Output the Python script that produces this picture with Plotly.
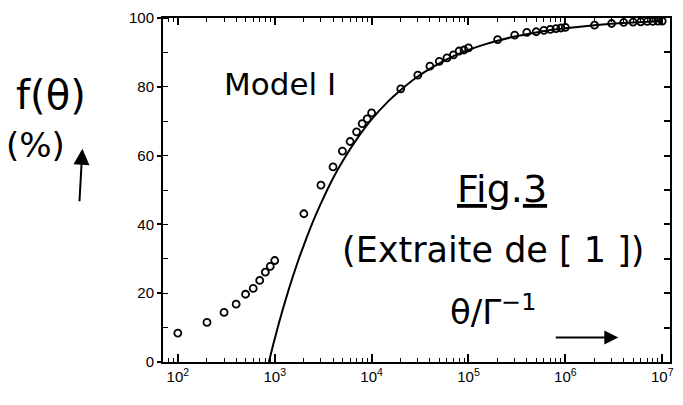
import plotly.graph_objects as go

# Measured fraction f(theta) in percent versus theta / Gamma^-1
theta_pts = [100, 200, 300, 400, 500, 600, 700, 800, 900, 1000,
             2000, 3000, 4000, 5000, 6000, 7000, 8000, 9000, 10000,
             20000, 30000, 40000, 50000, 60000, 70000, 80000, 90000, 100000,
             200000, 300000, 400000, 500000, 600000, 700000, 800000, 900000, 1000000,
             2000000, 3000000, 4000000, 5000000, 6000000, 7000000, 8000000, 9000000, 10000000]
f_pts = [8.4, 11.5, 14.4, 16.8, 19.7, 21.4, 23.7, 26.1, 27.8, 29.5,
         43.1, 51.4, 56.7, 61.3, 64.1, 66.9, 69.3, 70.7, 72.4,
         79.4, 83.4, 86.0, 87.4, 88.4, 89.3, 90.4, 90.7, 91.3,
         93.7, 95.0, 95.8, 96.0, 96.4, 96.7, 96.9, 97.1, 97.3,
         97.9, 98.4, 98.7, 98.8, 98.9, 99.0, 99.0, 99.1, 99.1]

# Model I curve
theta_curve = [870, 950, 1000, 1100, 1200, 1400, 1700, 2000, 2500, 3000, 4000, 5000,
               7000, 10000, 15000, 20000, 30000, 50000, 70000, 100000, 150000,
               200000, 300000, 500000, 700000, 1000000, 2000000, 3000000, 5000000, 10000000]
f_curve = [0.0, 4.3, 6.7, 11.1, 14.9, 21.2, 28.5, 34.0, 41.0, 46.1, 53.4, 58.3,
           64.7, 70.5, 75.9, 79.1, 83.0, 86.8, 88.9, 90.7, 92.4,
           93.4, 94.6, 95.8, 96.5, 97.0, 97.9, 98.3, 98.7, 99.1]

x_major = [100, 1000, 10000, 100000, 1000000, 10000000]
x_major_text = ["10<sup>2</sup>", "10<sup>3</sup>", "10<sup>4</sup>",
                "10<sup>5</sup>", "10<sup>6</sup>", "10<sup>7</sup>"]
x_minor = [k * 10 ** n for n in range(1, 7) for k in range(2, 10)]
y_major = [0, 20, 40, 60, 80, 100]

x_range = [1.847, 7.08]

fig = go.Figure()
fig.add_trace(go.Scatter(x=theta_curve, y=f_curve, mode="lines",
                         line=dict(color="black", width=2, shape="spline", smoothing=0.6),
                         showlegend=False, cliponaxis=True))
fig.add_trace(go.Scatter(x=theta_pts, y=f_pts, mode="markers",
                         marker=dict(symbol="circle-open", size=7, color="black",
                                     line=dict(width=1.8, color="black")),
                         showlegend=False))
# empty trace that carries the top / right frame axes
fig.add_trace(go.Scatter(x=[], y=[], xaxis="x2", yaxis="y2", showlegend=False))

tick_font = dict(family="Liberation Sans, Arial, sans-serif", size=15, color="black")

fig.update_layout(
    width=683, height=405,
    margin=dict(l=163, r=9, t=10, b=43),
    paper_bgcolor="white", plot_bgcolor="white",
    xaxis=dict(type="log", range=x_range, showgrid=False, zeroline=False,
               showline=True, linecolor="black", linewidth=2,
               tickmode="array", tickvals=x_major, ticktext=x_major_text,
               ticks="inside", ticklen=8, tickwidth=1.5, tickcolor="black",
               minor=dict(tickvals=x_minor, ticks="inside", ticklen=4,
                          tickwidth=1.2, tickcolor="black", showgrid=False),
               tickfont=tick_font),
    yaxis=dict(range=[0, 100], showgrid=False, zeroline=False,
               showline=True, linecolor="black", linewidth=2,
               tickmode="array", tickvals=y_major,
               ticks="outside", ticklen=4, tickwidth=1.5, tickcolor="black",
               minor=dict(dtick=10, ticks="inside", ticklen=5,
                          tickwidth=1.2, tickcolor="black", showgrid=False),
               tickfont=tick_font),
    xaxis2=dict(type="log", range=x_range, overlaying="x", side="top", anchor="y2",
                showgrid=False, zeroline=False, showline=True, linecolor="black",
                linewidth=2, tickmode="array", tickvals=x_major, showticklabels=False,
                ticks="inside", ticklen=7, tickwidth=1.5, tickcolor="black",
                minor=dict(tickvals=x_minor, ticks="inside", ticklen=4,
                           tickwidth=1.2, tickcolor="black", showgrid=False)),
    yaxis2=dict(range=[0, 100], overlaying="y", side="right", anchor="x2",
                showgrid=False, zeroline=False, showline=True, linecolor="black",
                linewidth=2, dtick=10, showticklabels=False,
                ticks="inside", ticklen=6, tickwidth=1.5, tickcolor="black"),
)

hand = "DejaVu Sans, sans-serif"
notes = [
    ("Model I", 0.231, 0.807, 31),
    ("<u>Fig</u>.<u>3</u>", 0.669, 0.503, 38),
    ("(Extraite de [ 1 ])", 0.652, 0.327, 35),
    ("θ/Γ<sup>−1</sup>", 0.650, 0.150, 34),
    ("f(θ)", -0.221, 0.775, 40),
    ("(%)", -0.252, 0.632, 34),
]
for txt, x, y, s in notes:
    fig.add_annotation(text=txt, x=x, y=y, xref="paper", yref="paper",
                       showarrow=False, xanchor="center", yanchor="middle",
                       font=dict(family=hand, size=s, color="black"))

# hand-drawn style arrows
fig.add_annotation(x=0.898, y=0.071, xref="paper", yref="paper", text="",
                   showarrow=True, ax=-64, ay=0, axref="pixel", ayref="pixel",
                   arrowhead=2, arrowsize=1.4, arrowwidth=2, arrowcolor="black")
fig.add_annotation(x=-0.159, y=0.620, xref="paper", yref="paper", text="",
                   showarrow=True, ax=-3, ay=54, axref="pixel", ayref="pixel",
                   arrowhead=2, arrowsize=1.6, arrowwidth=2, arrowcolor="black")

fig.write_html("out.html")
